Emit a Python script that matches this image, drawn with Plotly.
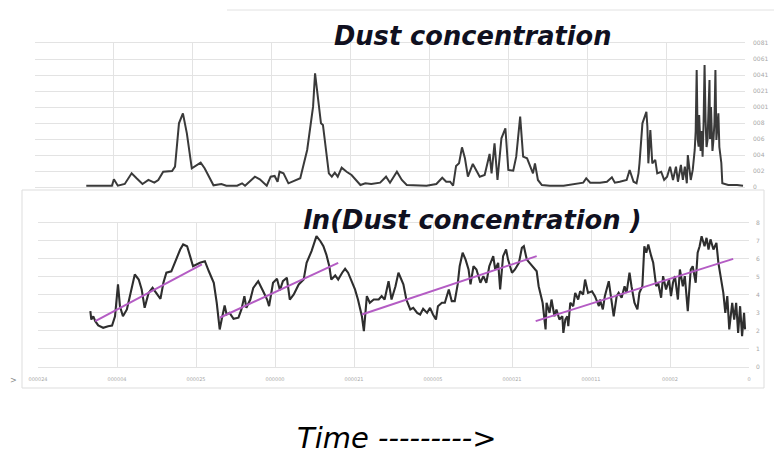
import plotly.graph_objects as go

# ---------------- data ----------------
# Dust concentration (top chart): time index vs concentration
dust_t = [52, 78, 80, 84, 91, 98, 103, 109, 115, 121,
          125, 130, 139, 142, 146, 150, 154, 159, 168, 172,
          181, 189, 194, 205, 210, 213, 223, 228, 235, 239,
          243, 246, 248, 252, 257, 269, 276, 282, 284, 287,
          290, 292, 295, 298, 301, 304, 307, 311, 316, 321,
          330, 335, 341, 350, 356, 360, 367, 372, 377, 387,
          397, 407, 413, 417, 421, 424, 427, 430, 433, 436,
          439, 444, 448, 451, 456, 461, 463, 466, 469, 473,
          477, 480, 485, 488, 492, 495, 499, 502, 505, 507,
          510, 514, 522, 536, 546, 556, 559, 563, 573, 580,
          585, 588, 593, 600, 603, 607, 610, 612, 613, 616,
          620, 621, 622, 624, 626, 629, 631, 635, 638, 641,
          644, 647, 650, 652, 655, 657, 659, 661, 662, 665,
          667, 669, 670, 671, 672, 673, 673.5, 674, 675, 676,
          677, 678, 679, 680, 681, 682, 683, 684, 684.5, 685,
          685.5, 686, 687, 688, 689, 690, 690.5, 691, 692, 693,
          694, 695, 696, 697, 703, 712, 718]
dust_val = [16, 16, 96, 16, 38, 171, 109, 38, 88, 54,
            88, 191, 200, 254, 796, 921, 671, 234, 304, 234,
            21, 38, 16, 16, 46, 16, 129, 96, 16, 129,
            138, 66, 191, 171, 46, 109, 463, 1004, 1421, 1088,
            796, 775, 463, 171, 129, 179, 129, 241, 191, 150,
            25, 46, 38, 54, 129, 54, 191, 88, 25, 16,
            16, 38, 116, 66, 66, 16, 263, 296, 496, 359,
            129, 288, 191, 129, 150, 413, 171, 546, 88, 609,
            734, 213, 204, 379, 879, 379, 359, 254, 171, 296,
            88, 25, 16, 16, 38, 54, 109, 54, 54, 66,
            121, 54, 66, 88, 213, 66, 46, 171, 296, 796,
            941, 754, 296, 713, 296, 338, 171, 191, 88, 129,
            254, 88, 254, 66, 275, 88, 254, 46, 400, 88,
            213, 463, 700, 1463, 600, 504, 900, 796, 450, 700,
            379, 800, 1525, 838, 500, 588, 900, 1338, 600, 671,
            1000, 879, 450, 588, 800, 1463, 700, 588, 750, 921,
            500, 421, 300, 46, 25, 25, 16]

# ln(Dust concentration) (bottom chart)
ln_t = [53, 54, 56, 58, 61, 66, 71, 75, 78, 81,
        83, 86, 90, 95, 98, 102, 105, 108, 112, 116,
        120, 124, 127, 130, 135, 140, 144, 147, 151, 154,
        157, 164, 169, 173, 178, 181, 184, 186, 189, 191,
        194, 198, 203, 206, 209, 211, 215, 218, 223, 228,
        232, 234, 238, 242, 245, 248, 252, 255, 259, 264,
        269, 272, 277, 282, 286, 289, 292, 295, 297, 301,
        304, 308, 311, 314, 318, 321, 324, 328, 330, 333,
        336, 340, 345, 348, 351, 355, 358, 362, 365, 368,
        370, 373, 377, 380, 384, 387, 390, 394, 397, 400,
        403, 405, 409, 412, 416, 419, 422, 425, 427, 430,
        433, 436, 438, 441, 444, 448, 451, 454, 457, 461,
        463, 466, 468, 471, 474, 476, 480, 483, 487, 490,
        492, 495, 498, 502, 505, 507, 509, 511, 514, 515,
        518, 520, 523, 525, 528, 531, 532, 534, 536, 537,
        539, 542, 544, 547, 549, 552, 554, 557, 561, 564,
        568, 569, 572, 574, 578, 580, 583, 586, 588, 591,
        594, 596, 599, 601, 604, 607, 609, 612, 614, 616,
        618, 621, 623, 626, 628, 631, 633, 636, 639, 641,
        643, 645, 648, 650, 653, 655, 658, 661, 663, 666,
        668, 670, 672, 675, 677, 679, 681, 684, 687, 689,
        692, 694, 696, 698, 700, 703, 705, 707, 709, 711,
        713, 715, 716]
ln_val = [3.07, 2.61, 2.79, 2.52, 2.28, 2.15, 2.24, 2.28, 2.79, 4.56,
          3.35, 2.79, 3.17, 4.46, 5.11, 4.83, 4.28, 3.26, 4.09, 4.37,
          4.09, 3.76, 4.65, 5.21, 5.29, 5.94, 6.5, 6.78, 6.68, 6.13,
          5.57, 5.76, 5.85, 5.29, 4.65, 3.54, 2.06, 2.61, 3.39, 2.89,
          2.98, 2.65, 2.71, 3.17, 3.91, 3.26, 3.72, 4.37, 4.74, 4.18,
          3.72, 3.35, 4.65, 4.87, 4.24, 4.74, 4.93, 3.72, 4.0, 4.56,
          4.83, 5.76, 6.41, 7.24, 6.96, 6.68, 6.22, 5.57, 4.83, 5.06,
          4.83, 5.21, 5.43, 5.21, 4.65, 4.28, 3.72, 2.79, 1.96, 3.91,
          3.54, 3.72, 3.72, 3.91, 3.72, 4.74, 3.72, 4.46, 5.21, 4.83,
          4.56, 3.72, 3.17, 3.26, 2.98, 2.89, 3.21, 2.98, 3.26, 2.89,
          2.61, 3.35, 3.54, 3.54, 4.28, 3.63, 3.63, 4.56, 5.57, 6.32,
          5.94, 5.39, 4.56, 5.57, 5.39, 4.65, 5.02, 4.65, 5.57, 6.13,
          5.39, 5.76, 4.28, 6.13, 6.5, 5.94, 5.21, 5.39, 5.76, 6.59,
          6.68, 5.94, 5.76, 5.48, 5.29, 4.46, 3.91, 3.54, 2.06, 3.54,
          2.98, 3.72, 2.79, 3.17, 2.61, 2.79, 1.87, 2.61, 2.79, 2.24,
          3.54, 3.35, 4.09, 3.72, 4.18, 4.0, 4.83, 4.09, 4.18, 3.91,
          3.35, 3.72, 3.17, 3.91, 4.74, 3.91, 2.79, 3.91, 4.09, 3.82,
          4.46, 4.09, 5.21, 4.46, 3.54, 3.17, 4.09, 4.46, 6.68, 6.32,
          6.78, 6.13, 5.76, 4.46, 4.65, 3.82, 5.02, 4.28, 4.83, 3.91,
          4.65, 5.02, 3.72, 5.39, 4.46, 5.02, 3.07, 5.39, 5.57, 4.65,
          6.32, 6.68, 7.24, 6.68, 7.15, 6.5, 7.06, 6.5, 6.87, 5.76,
          4.83, 4.09, 2.98, 3.91, 2.06, 3.54, 2.61, 3.54, 1.87, 3.35,
          1.68, 2.98, 2.06]

# linear trend segments on the ln chart
trend_t_start = [58, 184, 328, 504]
trend_ln_start = [2.52, 2.71, 2.89, 2.52]
trend_t_end = [166, 304, 505, 704]
trend_ln_end = [5.67, 5.76, 6.13, 5.98]

# tick labels (as they appear in the picture)
time_ticks = [0, 80, 160, 240, 320, 400, 480, 560, 640, 720]
time_tick_text = ["000024", "000004", "000025", "000000", "000021",
                  "000005", "000021", "000011", "00002", "0"]
dust_ticks = [0, 200, 400, 600, 800, 1000, 1200, 1400, 1600, 1800]
dust_tick_text = ["0", "002", "004", "006", "008",
                  "0001", "0021", "0041", "0061", "0081"]
ln_ticks = [0, 1, 2, 3, 4, 5, 6, 7, 8]

# ---------------- layout helpers ----------------
W, H = 774, 456
def fx(p):
    return p / W
def fy(p):
    return 1 - p / H

GRID = "#e3e3e3"
TICKC = "#a8a8a8"

trend_x, trend_y = [], []
for a, b, c, d in zip(trend_t_start, trend_ln_start, trend_t_end, trend_ln_end):
    trend_x += [a, c, None]
    trend_y += [b, d, None]

fig = go.Figure()
fig.add_trace(go.Scatter(x=dust_t, y=dust_val, mode="lines",
                         line=dict(color="#3a3a3a", width=2),
                         xaxis="x", yaxis="y", hoverinfo="skip"))
fig.add_trace(go.Scatter(x=ln_t, y=ln_val, mode="lines",
                         line=dict(color="#2e2e2e", width=2.1),
                         xaxis="x2", yaxis="y2", hoverinfo="skip"))
fig.add_trace(go.Scatter(x=trend_x, y=trend_y, mode="lines",
                         line=dict(color="#b45cc4", width=2),
                         xaxis="x2", yaxis="y2", hoverinfo="skip"))

common_x = dict(range=[0, 720], tickvals=time_ticks, showgrid=True,
                gridcolor=GRID, gridwidth=1, zeroline=False, showline=True,
                mirror=True, linecolor=GRID, linewidth=1, ticks="",
                automargin=False)

fig.update_layout(
    width=W, height=H,
    margin=dict(l=0, r=0, t=0, b=0, pad=0, autoexpand=False),
    paper_bgcolor="white", plot_bgcolor="white",
    showlegend=False,
    xaxis=dict(domain=[fx(35), fx(745)], anchor="y",
               showticklabels=False, **common_x),
    yaxis=dict(domain=[fy(187), fy(43)], anchor="x", range=[0, 1800],
               tickvals=dust_ticks, ticktext=dust_tick_text, side="right",
               showgrid=True, gridcolor=GRID, zeroline=False, ticks="",
               showline=False, ticklabelstandoff=7, automargin=False,
               tickfont=dict(family="DejaVu Sans", size=6, color=TICKC)),
    xaxis2=dict(domain=[fx(38), fx(749)], anchor="y2",
                ticktext=time_tick_text, ticklabelstandoff=7,
                tickfont=dict(family="DejaVu Sans", size=5, color=TICKC),
                **common_x),
    yaxis2=dict(domain=[fy(366.5), fy(222.5)], anchor="x2", range=[0, 8],
                tickvals=ln_ticks, side="right", showgrid=True,
                gridcolor=GRID, zeroline=False, ticks="", showline=False,
                ticklabelstandoff=6, automargin=False,
                tickfont=dict(family="DejaVu Sans", size=6, color=TICKC)),
    shapes=[
        dict(type="line", xref="paper", yref="paper",
             x0=fx(227), x1=1, y0=fy(10), y1=fy(10),
             line=dict(color="#e2e2e2", width=1)),
        dict(type="rect", xref="paper", yref="paper",
             x0=fx(22), x1=fx(764), y0=fy(388), y1=fy(190),
             line=dict(color="#dddddd", width=1), layer="below"),
    ],
    annotations=[
        dict(text="Dust concentration", xref="paper", yref="paper",
             x=fx(473), y=fy(36), xanchor="center", yanchor="middle",
             showarrow=False,
             font=dict(family="DejaVu Sans", size=25.7, color="#101020",
                       style="italic", weight="bold")),
        dict(text="ln(Dust concentration )", xref="paper", yref="paper",
             x=fx(472), y=fy(220), xanchor="center", yanchor="middle",
             showarrow=False,
             font=dict(family="DejaVu Sans", size=25.8, color="#101020",
                       style="italic", weight="bold")),
        dict(text="Time --------->", xref="paper", yref="paper",
             x=fx(397), y=fy(438), xanchor="center", yanchor="middle",
             showarrow=False,
             font=dict(family="DejaVu Sans", size=29, color="#000000",
                       style="italic", weight="normal")),
        dict(text=">", xref="paper", yref="paper",
             x=fx(13), y=fy(380), xanchor="center", yanchor="middle",
             showarrow=False,
             font=dict(family="DejaVu Sans", size=8, color="#888888")),
    ],
)

fig.write_html(
    "out.html",
    config={"displayModeBar": False, "staticPlot": True},
    post_script="document.body.style.margin='0';"
                "document.body.style.padding='0';"
                "document.body.style.overflow='hidden';",
)
